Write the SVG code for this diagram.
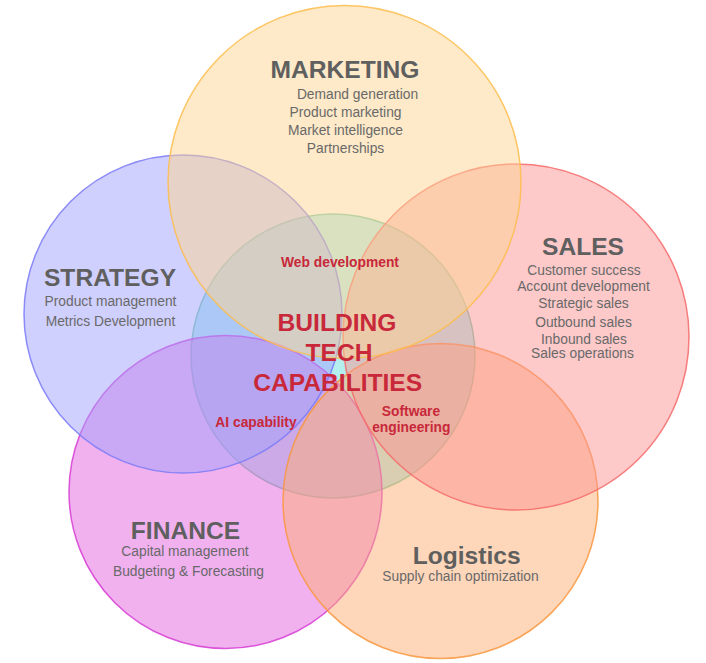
<svg xmlns="http://www.w3.org/2000/svg" width="706" height="663" viewBox="0 0 706 663">
<style>
.c{fill-opacity:0.5;stroke-width:1.5;stroke-opacity:0.85}
.t{font-family:"Liberation Sans",Arial,sans-serif;font-weight:bold;font-size:24.6px;fill:#5f5f5f;text-anchor:middle}
.s{font-family:"Liberation Sans",Arial,sans-serif;font-size:13.8px;fill:#696969;text-anchor:middle}
.r{font-family:"Liberation Sans",Arial,sans-serif;font-weight:bold;font-size:13.8px;fill:#c8283a;text-anchor:middle}
.rb{font-family:"Liberation Sans",Arial,sans-serif;font-weight:bold;font-size:24.6px;fill:#c8283a;text-anchor:middle}
</style>
<rect width="706" height="663" fill="#ffffff"/>
<g id="center-circle"><circle class="c" cx="333" cy="356" r="142" fill="#69dddd" stroke="#6cc8a0"/></g>
<g id="finance-circle"><circle class="c" cx="225.5" cy="492" r="156.5" fill="#e363df" stroke="#d63cd4"/></g>
<g id="strategy-circle"><circle class="c" cx="183" cy="314" r="159" fill="#a1a1fd" stroke="#7a7af6"/></g>
<g id="logistics-circle"><circle class="c" cx="440.5" cy="501" r="157.5" fill="#fdad73" stroke="#f9963e"/></g>
<g id="sales-circle"><circle class="c" cx="516" cy="337" r="173" fill="#fb9393" stroke="#f66a6a"/></g>
<g id="marketing-circle"><circle class="c" cx="344.5" cy="182" r="176.5" fill="#fdd391" stroke="#fdbd4c"/></g>

<g id="marketing">
<text class="t" x="345" y="78">MARKETING</text>
<text class="s" x="357.5" y="99">Demand generation</text>
<text class="s" x="345.5" y="117">Product marketing</text>
<text class="s" x="345.5" y="135">Market intelligence</text>
<text class="s" x="345.5" y="153">Partnerships</text>
</g>
<g id="sales">
<text class="t" x="583" y="254.5">SALES</text>
<text class="s" x="584" y="274.5">Customer success</text>
<text class="s" x="583.5" y="291">Account development</text>
<text class="s" x="583.5" y="308">Strategic sales</text>
<text class="s" x="583.5" y="327">Outbound sales</text>
<text class="s" x="584" y="343.5">Inbound sales</text>
<text class="s" x="582.5" y="357.5">Sales operations</text>
</g>
<g id="strategy">
<text class="t" x="110" y="286">STRATEGY</text>
<text class="s" x="110.5" y="306">Product management</text>
<text class="s" x="110.5" y="326">Metrics Development</text>
</g>
<g id="finance">
<text class="t" x="185.5" y="538.5">FINANCE</text>
<text class="s" x="185" y="556">Capital management</text>
<text class="s" x="188.5" y="576">Budgeting &amp; Forecasting</text>
</g>
<g id="logistics">
<text class="t" x="466.7" y="563.5">Logistics</text>
<text class="s" x="460.5" y="581">Supply chain optimization</text>
</g>
<g id="building-tech">
<text class="r" x="340" y="267">Web development</text>
<text class="rb" x="337" y="331">BUILDING</text>
<text class="rb" x="339" y="361">TECH</text>
<text class="rb" x="337.7" y="391">CAPABILITIES</text>
<text class="r" x="256" y="427">AI capability</text>
<text class="r" x="411" y="415.5">Software</text>
<text class="r" x="411.3" y="431.5">engineering</text>
</g>
<g id="connectors"/>
</svg>
